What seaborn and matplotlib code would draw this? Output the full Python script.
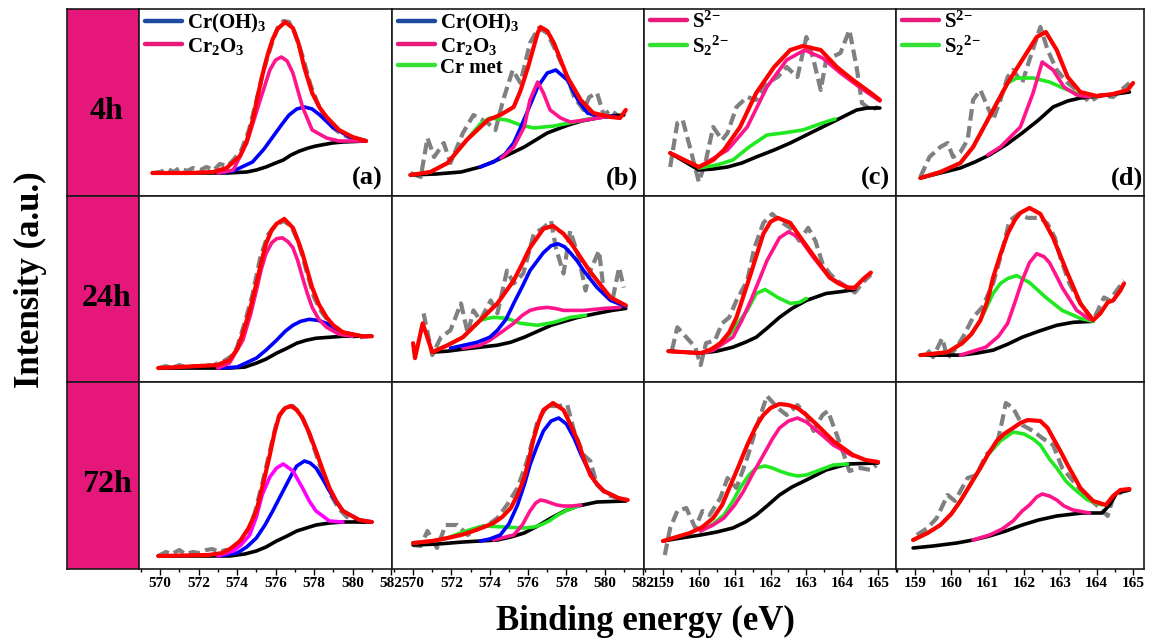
import matplotlib
matplotlib.use("Agg")
import matplotlib.pyplot as plt
from matplotlib.lines import Line2D
from matplotlib.ticker import MultipleLocator
import seaborn as sns

sns.set_style("white")
plt.rcParams['font.family'] = ['Liberation Serif', 'DejaVu Serif']
plt.rcParams['font.weight'] = 'bold'
plt.rcParams['text.color'] = 'black'
plt.rcParams['axes.labelcolor'] = 'black'
plt.rcParams['xtick.color'] = 'black'
plt.rcParams['ytick.color'] = 'black'
plt.rcParams['mathtext.fontset'] = 'custom'
plt.rcParams['mathtext.rm'] = 'Liberation Serif:bold'
plt.rcParams['mathtext.bf'] = 'Liberation Serif:bold'
plt.rcParams['mathtext.it'] = 'Liberation Serif:bold:italic'

# ---------------- data (binding energy eV, intensity a.u.) ----------------
rows = ["4h", "24h", "72h"]
panel_letters = ["(a)", "(b)", "(c)", "(d)"]
cr_ticks = [570, 572, 574, 576, 578, 580, 582]
s_ticks = [159, 160, 161, 162, 163, 164, 165]

# ---- 4h, Cr 2p (a)
a1_data = [(569.6,23),(570.0,24),(570.4,27),(570.7,24),(571.0,28),(571.4,25),(571.7,28),(572.1,26),(572.4,29),(572.8,26),(573.1,32),(573.5,30),(573.8,36),(574.2,45),(574.6,65),(575.0,95),(575.4,128),(575.8,152),(576.1,168),(576.4,175),(576.7,174),(577.0,163),(577.4,140),(577.8,112),(578.2,92),(578.6,78),(579.0,68),(579.4,62),(579.9,58),(580.3,57),(580.7,55)]
a1_bg = [(569.6,23),(573.5,23),(574.5,24),(575.0,26),(575.5,29),(576.0,33),(576.4,36),(576.8,41),(577.25,45),(577.7,48),(578.1,50),(578.95,53),(579.5,54),(580.7,55)]
a1_fit = [(569.6,23),(571.5,23),(572.75,24),(573.45,28),(574.15,40),(574.5,55),(574.8,75),(575.05,98),(575.3,120),(575.6,142),(575.85,157),(576.1,167),(576.5,174),(576.9,168),(577.2,152),(577.5,128),(577.9,103),(578.3,88),(578.65,79),(579.3,66),(580.0,59),(580.7,55)]
a1_cr2o3 = [(573.0,23),(573.8,26),(574.5,53),(575.2,96),(575.7,126),(576.0,136),(576.3,139),(576.6,135),(576.9,123),(577.4,89),(577.9,66),(578.65,58),(579.3,55),(580.7,55)]
a1_croh3 = [(573.0,23),(573.8,25),(574.8,34),(575.4,47),(575.85,59),(576.3,71),(576.7,81),(577.1,87),(577.5,89),(577.9,87),(578.3,81),(578.95,69),(579.85,59),(580.7,55)]

# ---- 4h, Cr 2p (b)
b1_data = [(569.86,23),(570.4,19),(570.75,58),(571.1,39),(571.6,53),(571.95,33),(572.6,63),(573.15,81),(573.9,73),(574.3,66),(574.7,96),(575.2,126),(575.6,113),(576.1,153),(576.55,168),(577.0,163),(577.5,143),(578.05,119),(578.4,99),(578.9,86),(579.2,99),(579.6,103),(579.95,81),(580.3,86),(580.85,78)]
b1_bg = [(569.86,21),(571.2,22),(572.5,24),(573.5,29),(574.4,36),(575.8,49),(576.4,56),(577.0,63),(578.1,71),(578.8,75),(579.6,78),(580.3,80),(581.0,81)]
b1_fit = [(569.86,21),(570.9,24),(571.8,33),(572.8,56),(573.9,76),(574.55,81),(575.25,89),(575.6,105),(576.0,129),(576.5,163),(576.65,169),(577.0,165),(577.35,153),(578.05,119),(578.75,96),(579.4,83),(580.3,79),(580.8,78),(581.1,86)]
b1_cr2o3 = [(574.6,38),(575.25,49),(575.8,69),(576.1,96),(576.5,114),(576.8,103),(577.15,86),(577.7,78),(578.2,74),(579.0,76),(580.0,79)]
b1_croh3 = [(573.5,29),(574.2,34),(574.8,42),(575.25,53),(575.6,68),(576.0,86),(576.5,109),(577.0,123),(577.45,126),(578.05,116),(578.6,96),(579.1,83),(579.8,79),(580.5,80)]
b1_crmet = [(569.86,21),(570.9,24),(571.8,33),(572.8,56),(573.5,72),(574.0,78),(574.9,76),(575.6,71),(576.3,68),(577.35,70),(578.4,74),(579.4,78),(580.3,80)]

# ---- 4h, S 2p (c)
c1_data = [(159.2,29),(159.4,73),(159.55,76),(159.75,49),(160.0,14),(160.2,36),(160.4,69),(160.65,56),(160.8,63),(161.05,89),(161.35,99),(161.6,96),(161.9,113),(162.2,119),(162.45,129),(162.75,119),(163.0,159),(163.2,136),(163.4,106),(163.55,136),(163.95,143),(164.2,166),(164.4,129),(164.55,93),(164.8,86),(165.0,89)]
c1_bg = [(159.2,43),(160.0,26),(160.4,27),(160.8,29),(161.2,33),(161.6,39),(162.1,46),(162.55,53),(163.0,61),(163.45,69),(163.9,77),(164.4,86),(164.7,88),(165.05,88)]
c1_fit = [(159.2,43),(160.0,29),(160.4,36),(160.7,46),(161.15,69),(161.6,103),(162.1,129),(162.55,146),(162.9,150),(163.4,146),(163.85,129),(164.3,116),(164.8,103),(165.05,96)]
c1_s2 = [(160.0,29),(160.8,46),(161.35,69),(161.9,109),(162.45,136),(162.95,146),(163.45,138),(163.95,123),(164.4,111),(164.8,101),(165.05,95)]
c1_s22 = [(160.0,28),(160.5,31),(160.95,36),(161.4,49),(161.9,61),(162.35,63),(162.9,66),(163.45,73),(163.8,77)]

# ---- 4h, S 2p (d)
d1_data = [(159.15,19),(159.4,39),(159.7,49),(159.9,53),(160.05,39),(160.25,44),(160.45,56),(160.6,96),(160.8,106),(161.0,89),(161.15,76),(161.35,96),(161.55,119),(161.7,126),(161.95,113),(162.15,136),(162.45,169),(162.65,146),(162.9,126),(163.2,113),(163.45,106),(163.8,94),(164.1,101),(164.45,99),(164.9,113)]
d1_bg = [(159.15,18),(159.7,23),(160.25,28),(160.65,34),(161.05,41),(161.5,51),(161.95,63),(162.4,76),(162.8,89),(163.2,95),(163.55,98),(164.3,101),(164.9,104)]
d1_fit = [(159.15,18),(159.7,24),(160.25,33),(160.6,49),(161.15,86),(161.55,113),(161.95,136),(162.35,159),(162.6,164),(162.9,146),(163.2,119),(163.55,104),(164.0,100),(164.45,102),(164.85,106),(165.0,113)]
d1_s2 = [(161.0,41),(161.35,49),(161.9,69),(162.25,103),(162.5,134),(162.8,126),(163.1,109),(163.45,101),(163.8,99)]
d1_s22 = [(159.15,18),(159.7,24),(160.25,33),(160.6,49),(161.15,86),(161.55,113),(161.8,118),(162.25,118),(162.7,114),(163.2,106),(163.6,101),(164.0,100)]

# ---- 24h
a2_data = [(569.9,14),(570.3,16),(570.6,14),(571.0,17),(571.3,15),(571.6,16),(572.0,15),(572.3,18),(572.7,16),(573.0,19),(573.3,21),(573.7,26),(574.0,35),(574.4,60),(574.8,88),(575.2,125),(575.6,148),(576.0,157),(576.4,162),(576.8,157),(577.2,140),(577.6,112),(578.0,85),(578.4,70),(578.8,60),(579.2,52),(579.6,48),(580.0,46),(580.4,45),(580.8,46)]
a2_bg = [(569.9,14),(573.6,14),(574.4,15),(575.0,19),(575.5,23),(576.05,29),(576.6,34),(577.1,39),(577.6,42),(578.1,44),(579.5,46),(581.0,46)]
a2_fit = [(569.9,14),(572.95,17),(573.6,22),(574.0,33),(574.3,49),(574.7,75),(575.0,99),(575.25,120),(575.5,139),(575.8,153),(576.05,159),(576.45,164),(576.9,155),(577.15,143),(577.4,129),(577.65,112),(577.9,95),(578.25,78),(578.65,65),(579.0,57),(579.5,50),(580.5,46),(581.0,46)]
a2_cr2o3 = [(573.0,14),(573.6,19),(574.3,42),(574.7,68),(575.0,92),(575.25,113),(575.5,129),(575.8,140),(576.05,144),(576.35,145),(576.65,141),(576.9,135),(577.15,122),(577.4,105),(577.65,89),(577.9,75),(578.25,63),(578.65,55),(579.3,48),(580.0,46)]
a2_croh3 = [(573.0,14),(574.0,15),(575.0,24),(575.5,32),(576.05,42),(576.5,51),(576.9,57),(577.3,61),(577.75,63),(578.2,62),(578.65,59),(579.1,54),(579.5,50),(580.0,48),(580.5,46)]

b2_data = [(570.55,69),(571.0,27),(571.45,45),(571.95,52),(572.5,79),(572.85,49),(573.15,72),(573.5,62),(574.05,82),(574.4,69),(574.9,112),(575.25,99),(575.75,109),(576.3,149),(576.8,155),(577.2,162),(577.45,135),(577.85,109),(578.2,152),(578.65,125),(579.0,92),(579.25,112),(579.7,132),(579.95,92),(580.4,82),(580.75,115),(581.0,95)]
b2_bg = [(571.0,30),(571.8,31),(572.6,33),(573.5,35),(574.4,37),(575.1,40),(575.8,45),(576.5,51),(577.2,57),(577.9,61),(578.6,65),(579.6,69),(580.4,72),(581.1,74)]
b2_fit = [(570.0,39),(570.1,24),(570.5,59),(571.0,30),(571.8,37),(572.6,45),(573.5,62),(574.4,79),(575.25,102),(575.7,119),(576.1,135),(576.8,154),(577.3,157),(577.85,149),(578.3,138),(578.75,125),(579.2,112),(579.6,102),(580.3,85),(581.1,77)]
b2_croh3 = [(571.95,34),(573.35,40),(574.0,45),(574.4,52),(574.85,63),(575.25,79),(575.7,96),(576.1,112),(576.8,130),(577.2,137),(577.55,139),(577.9,136),(578.2,130),(578.55,122),(578.9,112),(579.6,95),(580.3,82),(581.1,76)]
b2_cr2o3 = [(572.6,34),(573.5,37),(574.0,42),(574.6,50),(575.25,59),(575.7,67),(576.1,72),(576.5,74),(577.0,75),(577.4,74),(577.85,72),(578.9,72),(580.0,74),(580.8,75)]
b2_crmet = [(571.0,30),(571.8,37),(572.6,45),(573.5,62),(573.9,64),(574.2,65),(574.9,64),(575.6,59),(576.5,57),(577.35,60),(578.2,65),(579.0,67)]

c2_data = [(159.25,32),(159.4,55),(159.65,45),(159.9,35),(160.05,17),(160.2,39),(160.45,42),(160.65,59),(160.85,65),(161.05,82),(161.35,102),(161.55,135),(161.8,160),(162.05,169),(162.25,162),(162.55,155),(162.8,142),(163.05,155),(163.25,142),(163.45,119),(163.65,109),(163.85,102),(164.15,95),(164.35,90),(164.6,101),(164.8,108)]
c2_bg = [(159.15,31),(160.05,29),(160.5,31),(160.95,35),(161.3,40),(161.6,45),(161.9,54),(162.25,65),(162.6,74),(163.0,82),(163.55,89),(164.0,91),(164.35,93)]
c2_fit = [(159.15,31),(160.05,29),(160.35,33),(160.6,39),(160.85,50),(161.05,65),(161.25,87),(161.45,109),(161.65,132),(161.8,149),(162.0,161),(162.2,165),(162.55,160),(162.9,142),(163.3,122),(163.65,105),(163.9,99),(164.15,95),(164.35,95),(164.6,104),(164.8,110)]
c2_s2 = [(160.2,30),(160.4,32),(160.95,45),(161.2,62),(161.45,82),(161.7,104),(161.9,122),(162.25,145),(162.5,151),(162.8,145),(163.2,125),(163.65,105),(164.15,95),(164.35,94)]
c2_s22 = [(160.2,30),(160.5,36),(160.8,45),(161.35,72),(161.6,89),(161.85,93),(162.2,85),(162.55,79),(162.8,80),(163.0,84)]

d2_data = [(159.35,32),(159.5,25),(159.75,44),(159.9,24),(160.15,35),(160.35,47),(160.6,65),(160.85,75),(161.15,99),(161.4,132),(161.6,162),(161.85,169),(162.1,165),(162.45,165),(162.65,159),(162.85,145),(163.0,125),(163.25,99),(163.55,79),(163.9,62),(164.2,85),(164.35,82),(164.75,102)]
d2_bg = [(159.15,27),(160.25,27),(160.7,29),(161.15,32),(161.55,38),(161.95,45),(162.4,51),(162.9,57),(163.35,60),(163.9,61)]
d2_fit = [(159.15,27),(159.9,30),(160.3,39),(160.55,48),(160.8,62),(161.0,82),(161.15,105),(161.35,128),(161.55,149),(161.75,163),(161.9,170),(162.15,175),(162.45,169),(162.8,145),(163.0,127),(163.2,109),(163.55,79),(163.9,62),(164.1,69),(164.3,80),(164.45,82),(164.65,92),(164.75,99)]
d2_s2 = [(160.25,27),(160.95,35),(161.3,46),(161.55,59),(161.75,80),(161.95,102),(162.15,120),(162.35,129),(162.55,126),(162.7,120),(162.9,106),(163.05,95),(163.45,72),(163.8,63)]
d2_s22 = [(159.15,27),(159.9,30),(160.3,39),(160.55,48),(160.8,62),(161.15,89),(161.35,99),(161.55,104),(161.8,107),(162.15,100),(162.6,85),(163.05,72),(163.55,64),(163.9,61)]

# ---- 72h
a3_data = [(569.9,13),(570.3,17),(570.6,15),(571.0,19),(571.3,15),(571.7,17),(572.0,16),(572.4,19),(572.7,20),(573.1,17),(573.4,19),(573.8,18),(574.1,24),(574.5,35),(574.9,55),(575.3,85),(575.7,118),(576.1,150),(576.5,162),(576.9,163),(577.3,155),(577.7,138),(578.1,115),(578.5,92),(578.9,73),(579.3,60),(579.7,52),(580.1,49),(580.5,47),(580.9,47)]
a3_bg = [(569.9,13),(573.6,13),(574.4,15),(575.0,18),(575.5,22),(576.05,28),(576.6,33),(577.1,38),(577.6,41),(578.1,44),(578.8,46),(579.5,47),(581.0,47)]
a3_fit = [(569.9,13),(572.5,14),(573.25,16),(573.7,21),(574.15,28),(574.6,41),(575.0,58),(575.35,85),(575.7,114),(575.95,137),(576.2,154),(576.5,161),(576.8,163),(577.1,159),(577.4,151),(577.75,136),(578.1,118),(578.45,99),(578.8,81),(579.15,68),(579.5,58),(580.35,49),(581.0,47)]
a3_cr2o3 = [(573.0,13),(573.8,18),(574.2,24),(574.65,34),(575.0,52),(575.3,74),(575.7,92),(576.05,101),(576.4,105),(576.9,98),(577.4,81),(577.75,68),(578.1,58),(578.8,48),(579.5,47)]
a3_croh3 = [(573.0,13),(574.0,16),(574.5,22),(575.0,31),(575.45,44),(575.85,58),(576.2,71),(576.55,84),(576.85,95),(577.1,103),(577.5,108),(577.8,106),(578.1,101),(578.45,90),(578.8,78),(579.15,67),(579.5,58),(580.35,49),(581.0,47)]

b3_data = [(570.0,24),(570.4,23),(570.75,38),(571.25,21),(571.7,44),(572.3,44),(572.85,34),(573.35,41),(573.9,44),(574.4,51),(574.9,64),(575.45,81),(575.95,108),(576.5,148),(577.0,163),(577.55,163),(578.05,164),(578.4,138),(578.9,114),(579.25,108),(579.6,84),(580.15,74),(580.7,71),(581.1,68)]
b3_bg = [(570.0,24),(571.3,25),(572.6,27),(573.5,28),(574.4,29),(575.1,32),(575.8,36),(576.5,43),(577.2,51),(577.9,58),(578.6,63),(579.6,67),(581.1,68)]
b3_fit = [(570.0,26),(571.0,28),(571.8,31),(572.5,34),(573.15,38),(573.7,42),(574.2,46),(574.65,52),(575.1,61),(575.45,74),(575.8,91),(576.05,110),(576.3,131),(576.55,147),(576.8,159),(577.3,166),(577.85,159),(578.2,145),(578.6,128),(578.9,111),(579.25,94),(579.6,85),(579.95,78),(580.7,71),(581.2,69)]
b3_croh3 = [(573.5,28),(574.0,30),(574.55,34),(575.0,45),(575.45,64),(575.8,84),(576.1,104),(576.45,122),(576.8,138),(577.2,148),(577.6,151),(578.0,145),(578.4,131),(578.75,115),(579.1,101),(579.5,87),(579.95,78),(580.7,71)]
b3_cr2o3 = [(574.2,29),(575.25,34),(575.7,44),(576.1,58),(576.4,66),(576.65,69),(576.9,68),(577.2,66),(577.5,64),(577.85,63),(578.3,63),(578.75,64)]
b3_crmet = [(570.0,26),(571.0,28),(571.8,31),(572.6,37),(573.1,40),(573.7,43),(574.75,42),(575.8,41),(576.3,42),(576.65,44),(577.1,48),(577.55,54),(578.05,59),(578.6,63)]

c3_data = [(159.05,14),(159.2,41),(159.4,58),(159.65,61),(159.9,41),(160.1,58),(160.3,54),(160.6,71),(160.8,91),(161.05,81),(161.35,111),(161.6,141),(161.9,173),(162.2,161),(162.45,154),(162.75,164),(163.0,154),(163.2,138),(163.45,154),(163.6,158),(163.85,134),(164.05,114),(164.2,98),(164.5,101),(164.8,99),(164.95,104)]
c3_bg = [(159.0,28),(159.5,31),(160.05,34),(160.5,37),(160.95,41),(161.3,47),(161.6,54),(161.9,63),(162.25,74),(162.6,82),(163.0,89),(163.55,99),(164.15,105),(165.0,106)]
c3_fit = [(159.0,28),(159.75,36),(160.1,42),(160.4,51),(160.65,64),(160.85,81),(161.1,102),(161.35,124),(161.6,143),(161.8,154),(162.0,161),(162.25,165),(162.5,164),(162.75,161),(163.0,154),(163.3,144),(163.75,128),(164.3,114),(164.65,109),(165.0,107)]
c3_s2 = [(160.05,38),(160.4,44),(160.7,51),(161.0,64),(161.25,78),(161.5,95),(161.8,114),(162.05,130),(162.25,141),(162.5,148),(162.75,151),(163.0,147),(163.2,141),(163.5,132),(163.75,124),(164.3,113)]
c3_s22 = [(160.05,38),(160.4,45),(160.7,54),(160.95,68),(161.15,81),(161.4,94),(161.6,101),(161.85,103),(162.05,101),(162.25,98),(162.5,95),(162.75,93),(163.0,94),(163.3,98),(163.75,104),(164.15,105)]

d3_data = [(159.05,34),(159.35,41),(159.6,51),(159.9,74),(160.1,68),(160.45,91),(160.7,94),(160.95,114),(161.25,124),(161.4,148),(161.5,166),(161.7,161),(161.95,144),(162.25,138),(162.5,131),(162.8,124),(163.05,101),(163.35,88),(163.75,71),(164.1,61),(164.3,53),(164.45,71),(164.75,79)]
d3_bg = [(158.95,21),(159.5,23),(160.15,26),(160.6,29),(161.05,33),(161.5,38),(161.95,44),(162.4,49),(162.9,53),(163.6,56),(164.15,56),(164.35,64),(164.55,76),(164.9,79)]
d3_fit = [(158.95,29),(159.35,36),(159.7,44),(160.0,55),(160.25,68),(160.55,86),(160.8,101),(161.0,114),(161.25,128),(161.45,135),(161.7,141),(161.9,146),(162.1,149),(162.45,148),(162.65,141),(162.8,131),(163.0,118),(163.2,104),(163.4,91),(163.55,81),(163.9,68),(164.25,64),(164.45,73),(164.65,79),(164.9,80)]
d3_s22 = [(158.95,29),(159.35,36),(159.7,44),(160.0,55),(160.25,68),(160.55,86),(160.8,101),(161.0,114),(161.35,128),(161.7,137),(162.0,135),(162.25,130),(162.45,124),(162.7,110),(162.9,101),(163.15,88),(163.35,81),(163.75,69),(164.15,64)]
d3_s2 = [(160.6,29),(161.05,34),(161.4,40),(161.7,48),(161.95,58),(162.15,64),(162.35,72),(162.5,75),(162.7,73),(162.9,69),(163.1,63),(163.35,59),(163.8,56)]

# ---------------- styling ----------------
PINK = '#E5177B'
C_FIT = '#FF0000'
C_BLUE = '#0000FF'
C_DPINK = '#FF148C'
C_MAG = '#FF00FF'
C_GREEN = '#22E822'
C_GRAY = '#808080'
C_BG = '#000000'
LEG_BLUE = '#1B4A9E'
LEG_PINK = '#E8197D'
LEG_GREEN = '#33E033'

W, H = 1149, 639
fig = plt.figure(figsize=(W / 100, H / 100), dpi=100)

col_px = [(139, 392), (392, 644), (644, 896), (896, 1144)]
row_px = [(9, 196), (196, 382), (382, 569)]
xlims = [(568.9, 582.05), (568.9, 582.05), (158.47, 165.5), (158.48, 165.3)]
letter_x = [0.964, 0.976, 0.976, 0.996]


def px_axes(x0, x1, y0, y1):
    return fig.add_axes([x0 / W, 1 - y1 / H, (x1 - x0) / W, (y1 - y0) / H])


def draw(ax, pts, color, lw, z, dashed=False):
    xs = [p[0] for p in pts]
    ys = [p[1] for p in pts]
    sns.lineplot(x=xs, y=ys, ax=ax, color=color, linewidth=lw, sort=False,
                 estimator=None, zorder=z, legend=False)
    ln = ax.lines[-1]
    ln.set_solid_joinstyle('round')
    ln.set_solid_capstyle('round')
    if dashed:
        ln.set_linestyle((0, (2.8, 1.3)))
        ln.set_dash_capstyle('butt')


panels = {
    (0, 0): dict(data=a1_data, bg=a1_bg, fit=a1_fit, comps=[(a1_croh3, C_BLUE), (a1_cr2o3, C_DPINK)]),
    (0, 1): dict(data=b1_data, bg=b1_bg, fit=b1_fit, comps=[(b1_crmet, C_GREEN), (b1_croh3, C_BLUE), (b1_cr2o3, C_DPINK)]),
    (0, 2): dict(data=c1_data, bg=c1_bg, fit=c1_fit, comps=[(c1_s22, C_GREEN), (c1_s2, C_DPINK)]),
    (0, 3): dict(data=d1_data, bg=d1_bg, fit=d1_fit, comps=[(d1_s22, C_GREEN), (d1_s2, C_DPINK)]),
    (1, 0): dict(data=a2_data, bg=a2_bg, fit=a2_fit, comps=[(a2_croh3, C_BLUE), (a2_cr2o3, C_DPINK)]),
    (1, 1): dict(data=b2_data, bg=b2_bg, fit=b2_fit, comps=[(b2_crmet, C_GREEN), (b2_cr2o3, C_DPINK), (b2_croh3, C_BLUE)]),
    (1, 2): dict(data=c2_data, bg=c2_bg, fit=c2_fit, comps=[(c2_s22, C_GREEN), (c2_s2, C_DPINK)]),
    (1, 3): dict(data=d2_data, bg=d2_bg, fit=d2_fit, comps=[(d2_s22, C_GREEN), (d2_s2, C_DPINK)]),
    (2, 0): dict(data=a3_data, bg=a3_bg, fit=a3_fit, comps=[(a3_croh3, C_BLUE), (a3_cr2o3, C_MAG)]),
    (2, 1): dict(data=b3_data, bg=b3_bg, fit=b3_fit, comps=[(b3_crmet, C_GREEN), (b3_cr2o3, C_DPINK), (b3_croh3, C_BLUE)]),
    (2, 2): dict(data=c3_data, bg=c3_bg, fit=c3_fit, comps=[(c3_s22, C_GREEN), (c3_s2, C_DPINK)]),
    (2, 3): dict(data=d3_data, bg=d3_bg, fit=d3_fit, comps=[(d3_s22, C_GREEN), (d3_s2, C_DPINK)]),
}

SPINE = '#1a1a1a'

# row label cells
for r, (y0, y1) in enumerate(row_px):
    ax = px_axes(67, 139, y0, y1)
    ax.set_facecolor(PINK)
    ax.set_xticks([]); ax.set_yticks([])
    for s in ax.spines.values():
        s.set_color(SPINE); s.set_linewidth(1.2)
    ax.text(0.55, 0.45, rows[r], transform=ax.transAxes, ha='center', va='center',
            fontsize=23, fontweight='bold', color='black')

for (r, c), p in panels.items():
    x0, x1 = col_px[c]
    y0, y1 = row_px[r]
    ax = px_axes(x0, x1, y0, y1)
    ax.set_facecolor('white')
    draw(ax, p['data'], C_GRAY, 3.0, 1, dashed=True)
    draw(ax, p['bg'], C_BG, 2.6, 2)
    for pts, col in p['comps']:
        draw(ax, pts, col, 2.6, 3)
    draw(ax, p['fit'], C_FIT, 3.0, 4)
    ax.set_xlim(*xlims[c])
    ax.set_ylim(0, 187)
    ax.set_yticks([])
    ax.set_xlabel(''); ax.set_ylabel('')
    for s in ax.spines.values():
        s.set_color(SPINE); s.set_linewidth(1.2)
    if r == 2:
        ticks = cr_ticks if c < 2 else s_ticks
        ax.set_xticks(ticks)
        ax.set_xticklabels([str(t) for t in ticks])
        ax.xaxis.set_minor_locator(MultipleLocator(1 if c < 2 else 0.5))
        ax.tick_params(axis='x', which='major', direction='out', length=4, width=1,
                       labelsize=11, pad=2, bottom=True, colors='black')
        ax.tick_params(axis='x', which='minor', direction='out', length=2.5, width=1,
                       bottom=True, colors='black')
        for lab in ax.get_xticklabels():
            lab.set_fontweight('bold')
    else:
        ax.set_xticks([])
    if r == 0:
        ax.text(letter_x[c], 0.06, panel_letters[c], transform=ax.transAxes,
                ha='right', va='baseline', fontsize=19, fontweight='bold', color='black')
        if c == 0:
            handles = [Line2D([], [], color=LEG_BLUE, lw=3.2), Line2D([], [], color=LEG_PINK, lw=3.2)]
            labels = ['Cr(OH)$_3$', 'Cr$_2$O$_3$']
        elif c == 1:
            handles = [Line2D([], [], color=LEG_BLUE, lw=3.2), Line2D([], [], color=LEG_PINK, lw=3.2),
                       Line2D([], [], color=LEG_GREEN, lw=3.2)]
            labels = ['Cr(OH)$_3$', 'Cr$_2$O$_3$', 'Cr met']
        else:
            handles = [Line2D([], [], color=LEG_PINK, lw=3.2), Line2D([], [], color=LEG_GREEN, lw=3.2)]
            labels = ['S$^{2{-}}$', 'S$_2$$^{2{-}}$']
        leg = ax.legend(handles, labels, loc='upper left', bbox_to_anchor=(0.0, 1.02),
                        frameon=False, prop={'family': 'Liberation Serif', 'weight': 'bold', 'size': 15},
                        handlelength=1.75, handletextpad=0.25, labelspacing=0.05, borderaxespad=0.2,
                        borderpad=0.1)
        for t in leg.get_texts():
            t.set_color('black')

fig.text(645 / W, 1 - 630 / H, 'Binding energy (eV)', ha='center', va='baseline',
         fontsize=25, fontweight='bold', color='black')
fig.text(30 / W, 1 - 280 / H, 'Intensity (a.u.)', ha='center', va='center', rotation=90,
         fontsize=25, fontweight='bold', color='black')

fig.savefig('out.png', dpi=100, facecolor='white')
